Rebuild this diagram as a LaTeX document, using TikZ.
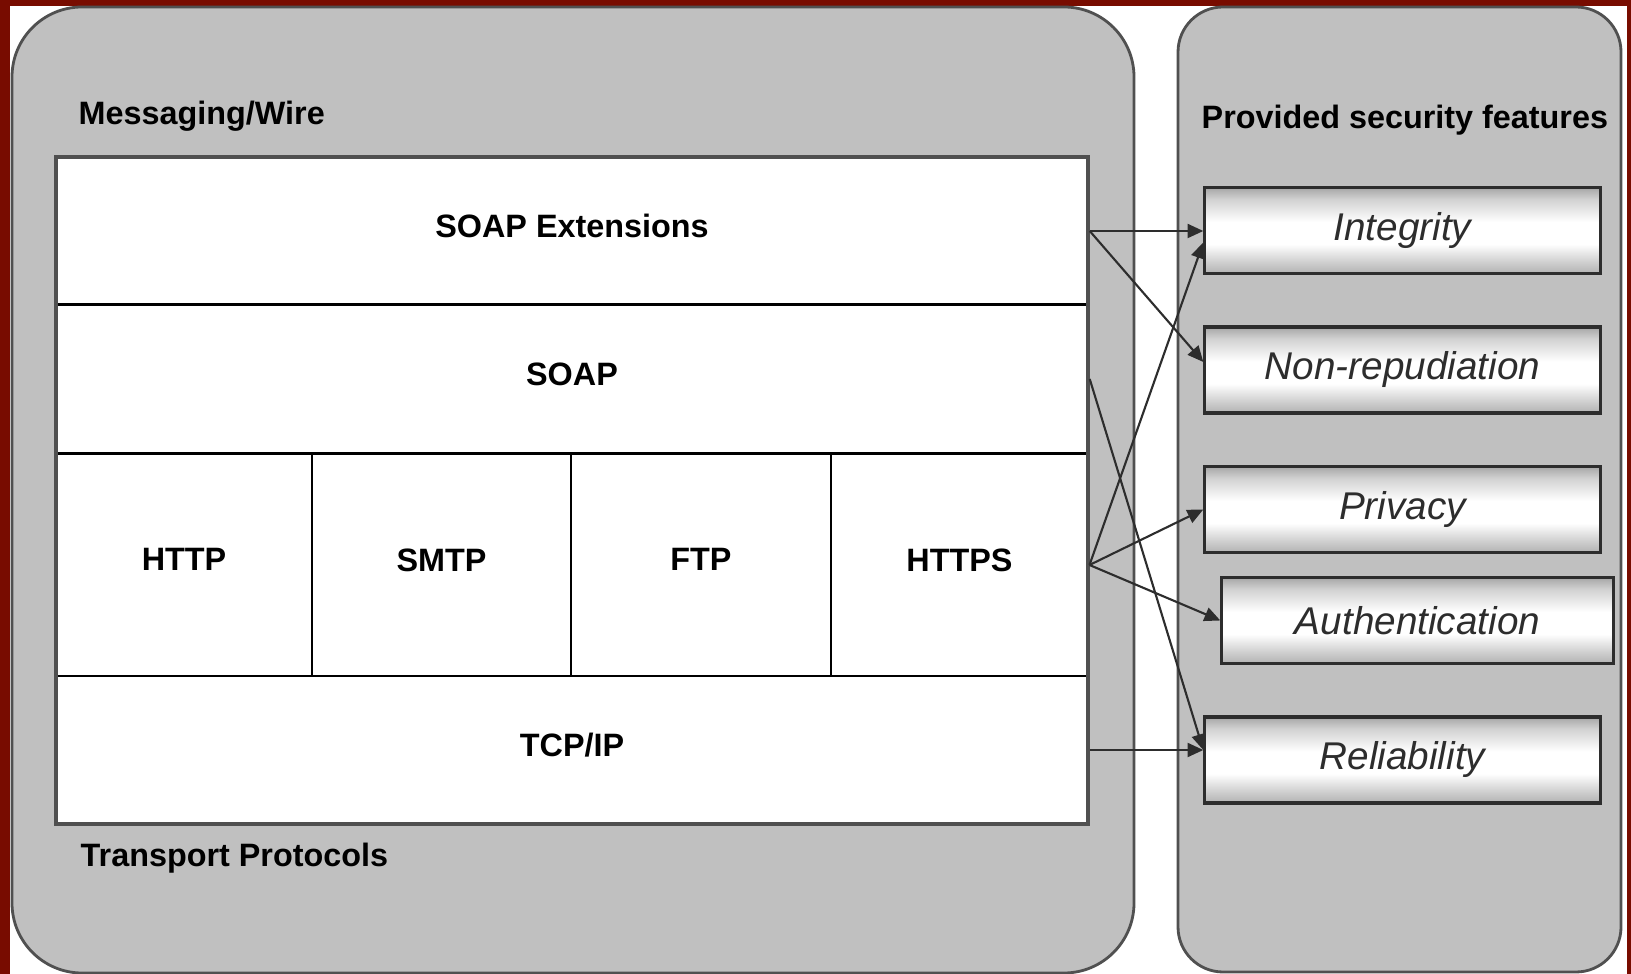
\documentclass[tikz,border=0pt]{standalone}
\usepackage{fontspec}
\setmainfont{Liberation Sans}
\usetikzlibrary{arrows.meta}

\definecolor{frame}{RGB}{120,12,0}
\definecolor{panel}{RGB}{192,192,192}
\definecolor{edge}{RGB}{80,80,80}
\definecolor{ink}{RGB}{45,45,45}

% chrome look for the feature bars (path maps to 25bp..75bp)
\pgfdeclareverticalshading{metal}{100bp}{color(0bp)=(gray!60); color(25bp)=(gray!60);
  color(31bp)=(gray!40); color(42bp)=(white); color(55bp)=(white);
  color(68bp)=(gray!35); color(75bp)=(gray!70); color(100bp)=(gray!70)}

\tikzset{
  panelbox/.style={fill=panel, draw=edge, line width=0.8pt},
  cell/.style={draw=black, line width=0.8pt, fill=white, inner sep=0pt, text depth=3pt,
    font=\bfseries\fontsize{9.2}{11}\selectfont},
  feature/.style={shade, shading=metal, draw=ink, line width=0.9pt,
    minimum width=3.95cm, minimum height=0.86cm, inner sep=0pt,
    text=ink, font=\itshape\fontsize{11}{13}\selectfont},
  heading/.style={anchor=west, inner sep=0pt, font=\bfseries\fontsize{9.2}{11}\selectfont},
  link/.style={draw=ink, line width=0.6pt, -{Triangle[length=4.5pt,width=4pt]}}
}

\begin{document}
\begin{tikzpicture}[x=0.01cm, y=-0.01cm]
  % Frame
  \fill[frame] (0,0) rectangle (1631,974);
  \fill[white] (10,6) rectangle (1627,974);
  \useasboundingbox (0,0) rectangle (1631,974);

  % Panels
  \draw[panelbox, rounded corners=0.7cm] (12,7) rectangle (1134,973);
  \draw[panelbox, rounded corners=0.45cm] (1178,7) rectangle (1621,972);

  % Protocol stack
  \node[cell, minimum width=10.32cm, minimum height=1.48cm] (ext) at (572,231) {SOAP Extensions};
  \node[cell, minimum width=10.32cm, minimum height=1.485cm] (soap) at (572,379) {SOAP};
  \node[cell, minimum width=2.56cm, minimum height=2.225cm] (http) at (184,565) {HTTP};
  \node[cell, minimum width=2.59cm, minimum height=2.225cm] (smtp) at (441.5,565) {SMTP};
  \node[cell, minimum width=2.6cm, minimum height=2.225cm] (ftp) at (701,565) {FTP};
  \node[cell, minimum width=2.57cm, minimum height=2.225cm] (https) at (959.5,565) {HTTPS};
  \node[cell, minimum width=10.32cm, minimum height=1.48cm] (tcp) at (572,750) {TCP/IP};
  \draw[edge, line width=1pt] (56,157) rectangle (1088,824);

  % Labels
  \node[heading] (wire) at (78,116) {Messaging/Wire};
  \node[heading] (transport) at (80,858) {Transport Protocols};
  \node[heading] (provided) at (1201,120) {Provided security features};

  % Security features
  \node[feature] (integ) at (1402.5,230.5) {Integrity};
  \node[feature] (nonrep) at (1402.5,370) {Non-repudiation};
  \node[feature] (privacy) at (1402.5,509.5) {Privacy};
  \node[feature, minimum width=3.91cm] (auth) at (1417.5,620.5) {Authentication};
  \node[feature] (relia) at (1402.5,760) {Reliability};

  % Links
  \draw[link] (ext.east) -- (ext.east -| integ.west);
  \draw[link] (ext.east) -- ([yshift=0.08cm]nonrep.west);
  \draw[link] (soap.east) -- ([yshift=0.1cm]relia.west);
  \draw[link] (https.east) -- ([yshift=-0.12cm]integ.west);
  \draw[link] (https.east) -- (privacy.west);
  \draw[link] (https.east) -- (auth.west);
  \draw[link] (tcp.east) -- (tcp.east -| relia.west);
\end{tikzpicture}
\end{document}
